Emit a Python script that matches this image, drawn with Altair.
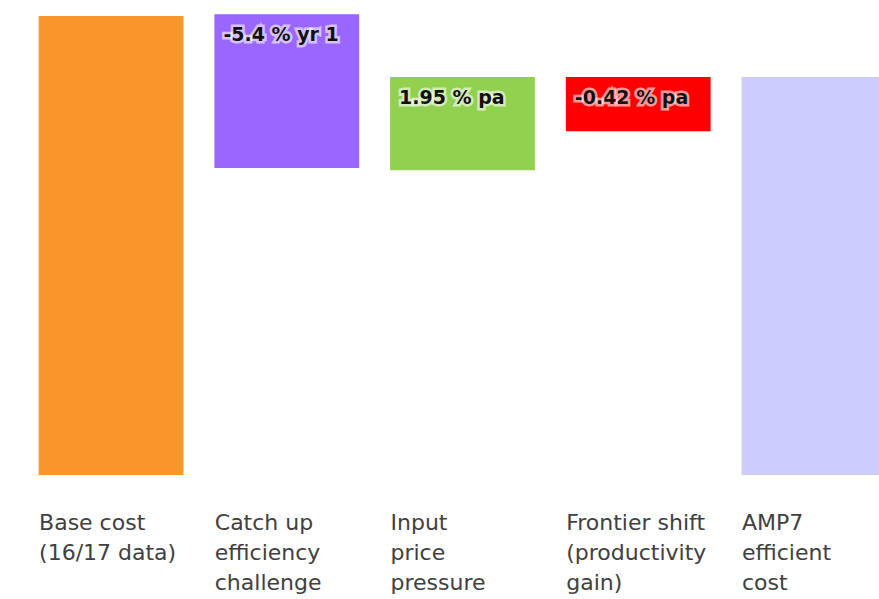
import altair as alt
import pandas as pd

categories = [
    "Base cost\n(16/17 data)",
    "Catch up\nefficiency\nchallenge",
    "Input\nprice\npressure",
    "Frontier shift\n(productivity\ngain)",
    "AMP7\nefficient\ncost",
]
bar_low = [0, 66.9, 66.4, 74.9, 0]
bar_high = [100, 100.4, 86.7, 86.7, 86.7]
bar_labels = ["", "-5.4 % yr 1", "1.95 % pa", "-0.42 % pa", ""]
bar_colors = ["#F8962C", "#9966FF", "#92D050", "#FF0000", "#CCCCFF"]

df = pd.DataFrame({
    "cat": categories,
    "low": bar_low,
    "high": bar_high,
    "label": bar_labels,
    "color": bar_colors,
})

xscale = alt.Scale(domain=categories, range=[0, 925], paddingInner=0.176, paddingOuter=0.22)
yscale = alt.Scale(domain=[0, 103.5], nice=False, zero=False)

base = alt.Chart(df)

bars = base.mark_bar(clip=True).encode(
    x=alt.X("cat:N", scale=xscale, sort=categories, title=None,
            axis=alt.Axis(
                labelAlign="left", labelBaseline="top",
                labelExpr="split(datum.label, '\\n')", labelPadding=37,
                labelOffset=-72, labelFont="DejaVu Sans", labelFontSize=22,
                labelLineHeight=30, labelColor="#404040", labelLimit=400,
                domain=False, ticks=False, grid=False, labelAngle=0)),
    y=alt.Y("low:Q", scale=yscale, axis=None),
    y2="high:Q",
    color=alt.Color("color:N", scale=None),
)

halo = base.mark_text(
    align="left", baseline="top", dx=9, dy=12, font="DejaVu Sans",
    fontSize=19, fontWeight="bold", stroke="white", strokeWidth=5,
    strokeOpacity=0.6, fill="white", fillOpacity=0.6,
).encode(
    x=alt.X("cat:N", scale=xscale, sort=categories, bandPosition=0),
    y=alt.Y("high:Q", scale=yscale),
    text="label:N",
)

labels = base.mark_text(
    align="left", baseline="top", dx=9, dy=12, font="DejaVu Sans",
    fontSize=19, fontWeight="bold", color="#111111",
).encode(
    x=alt.X("cat:N", scale=xscale, sort=categories, bandPosition=0),
    y=alt.Y("high:Q", scale=yscale),
    text="label:N",
)

chart = alt.layer(bars, halo, labels).properties(
    width=879, height=475,
    background="white",
    autosize=alt.AutoSizeParams(type="none"),
    padding={"left": 0, "top": 0, "right": 0, "bottom": 124},
).configure_view(strokeWidth=0, stroke=None)

chart.save("out.html", embed_options={"renderer": "svg", "actions": False})
